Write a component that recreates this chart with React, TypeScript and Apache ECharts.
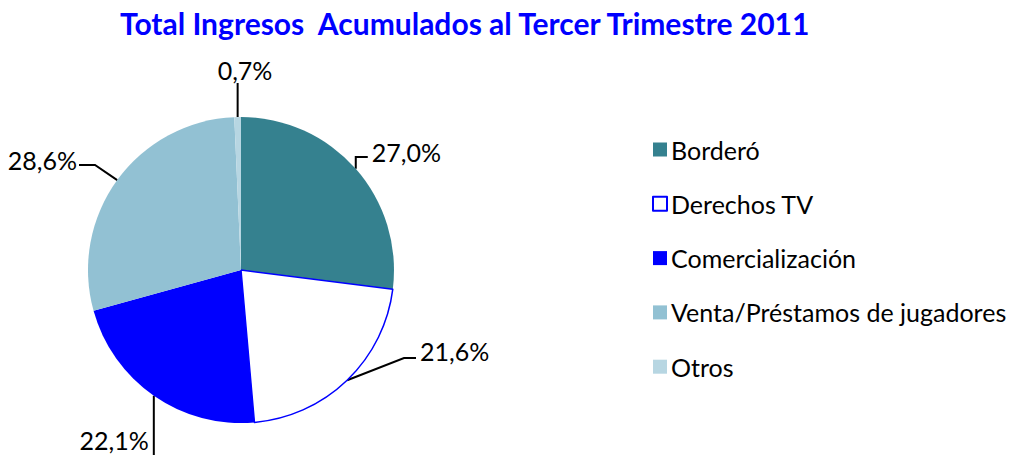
import React, { useEffect, useRef } from "react";
import * as echarts from "echarts";

const TITLE = "Total Ingresos  Acumulados al Tercer Trimestre 2011";
const categories = [
  "Borderó",
  "Derechos TV",
  "Comercialización",
  "Venta/Préstamos de jugadores",
  "Otros",
];
const shares = [27.0, 21.6, 22.1, 28.6, 0.7];
const fills = ["#35818F", "#FFFFFF", "#0000FF", "#92C1D3", "#B7D6E2"];

const FONT = "Lato";

// label layout helpers (positions of the callout texts, not data)
function layoutFor(idx: number, p0: number[]) {
  const [x0, y0] = p0;
  switch (idx) {
    case 0:
      return {
        x: x0 + 16, y: 152, align: "left", verticalAlign: "middle",
        labelLinePoints: [[x0, y0], [x0, 157], [x0 + 12, 157]],
      };
    case 1:
      return {
        x: 420, y: 351, align: "left", verticalAlign: "middle",
        labelLinePoints: [[x0, y0], [404, 358], [416, 358]],
      };
    case 2:
      return {
        x: x0 - 5, y: 440, align: "right", verticalAlign: "middle",
        labelLinePoints: [[x0, y0], [x0, 456]],
      };
    case 3:
      return {
        x: 77, y: 160, align: "right", verticalAlign: "middle",
        labelLinePoints: [[x0, y0], [95, 165], [79, 165]],
      };
    default:
      return {
        x: 245, y: 70, align: "center", verticalAlign: "middle",
        labelLinePoints: [[x0, y0], [x0, 83]],
      };
  }
}

export default function App() {
  const ref = useRef<HTMLDivElement>(null);
  useEffect(() => {
    document.body.style.margin = "0";
    const chart = echarts.init(ref.current!, null, { renderer: "svg" });
    chart.setOption({
      animation: false,
      backgroundColor: "#FFFFFF",
      title: {
        text: TITLE,
        left: 115,
        top: 3,
        textStyle: {
          fontFamily: FONT,
          fontWeight: "bold",
          fontSize: 30,
          color: "#0000FF",
        },
      },
      legend: {
        orient: "vertical",
        left: 647,
        top: 132,
        itemWidth: 14,
        itemHeight: 14,
        itemGap: 29.3,
        icon: "rect",
        textStyle: {
          fontFamily: FONT,
          fontSize: 25,
          lineHeight: 25,
          color: "#000000",
          padding: [0, 0, 0, -1],
        },
        data: categories,
      },
      series: [
        {
          type: "pie",
          center: [241, 270],
          radius: 153,
          startAngle: 90,
          clockwise: true,
          label: {
            show: true,
            fontFamily: FONT,
            fontSize: 25,
            color: "#000000",
            formatter: (p: any) => p.value.toFixed(1).replace(".", ",") + "%",
          },
          labelLine: {
            show: true,
            length: 10,
            length2: 10,
            lineStyle: { color: "#000000", width: 2 },
          },
          labelLayout: (params: any) =>
            layoutFor(params.dataIndex, params.labelLinePoints[0]),
          emphasis: { disabled: true },
          data: categories.map((name, i) => ({
            name,
            value: shares[i],
            itemStyle:
              i === 1
                ? { color: fills[i], borderColor: "#0000FF", borderWidth: 1.5 }
                : { color: fills[i], borderWidth: 0 },
          })),
        },
      ],
    });
    return () => chart.dispose();
  }, []);
  return <div ref={ref} style={{ width: 1011, height: 455 }} />;
}
